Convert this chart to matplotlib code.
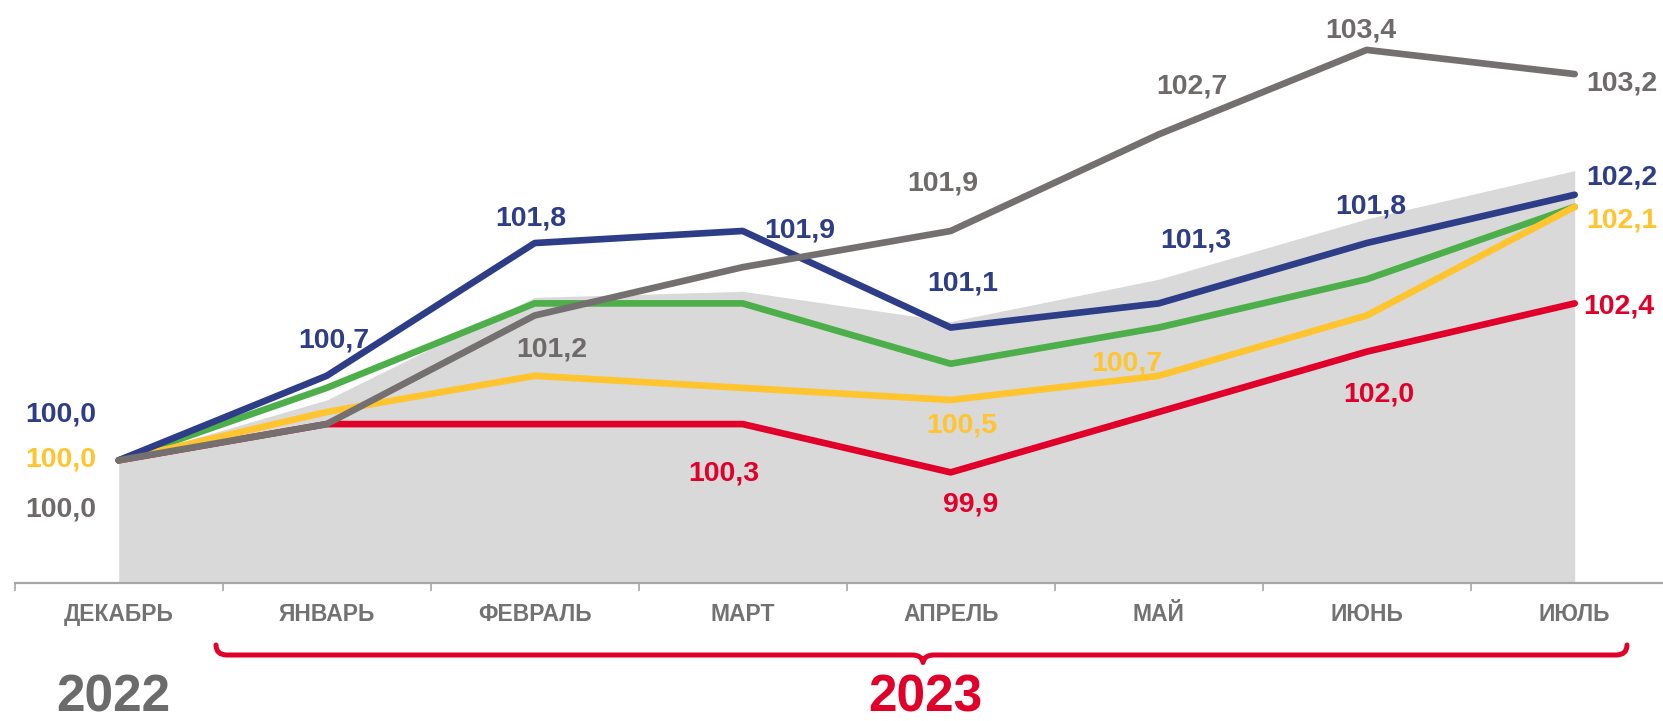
import matplotlib
matplotlib.use('Agg')
import matplotlib.pyplot as plt
from matplotlib.path import Path
from matplotlib.patches import PathPatch

# ---------------- data ----------------
months = ['ДЕКАБРЬ', 'ЯНВАРЬ', 'ФЕВРАЛЬ', 'МАРТ', 'АПРЕЛЬ', 'МАЙ', 'ИЮНЬ', 'ИЮЛЬ']
blue_vals = [100.0, 100.7, 101.8, 101.9, 101.1, 101.3, 101.8, 102.2]
green_vals = [100.0, 100.6, 101.3, 101.3, 100.8, 101.1, 101.5, 102.1]
yellow_vals = [100.0, 100.4, 100.7, 100.6, 100.5, 100.7, 101.2, 102.1]
red_vals = [100.0, 100.3, 100.3, 100.3, 99.9, 100.4, 100.9, 101.3]
gray_vals = [100.0, 100.3, 101.2, 101.6, 101.9, 102.7, 103.4, 103.2]
area_vals = [100.0, 100.5, 101.35, 101.4, 101.15, 101.5, 102.0, 102.4]

blue_labels = {0: '100,0', 1: '100,7', 2: '101,8', 3: '101,9', 4: '101,1',
               5: '101,3', 6: '101,8', 7: '102,2'}
yellow_labels = {0: '100,0', 4: '100,5', 5: '100,7', 7: '102,1'}
gray_labels = {0: '100,0', 2: '101,2', 4: '101,9', 5: '102,7', 6: '103,4', 7: '103,2'}
red_labels = {3: '100,3', 4: '99,9', 6: '102,0', 7: '102,4'}
year_labels = ['2022', '2023']

# ---------------- style ----------------
C_BLUE = '#2E3D87'
C_GREEN = '#4DAF4A'
C_YELLOW = '#FFC42E'
C_RED = '#E1002A'
C_GRAY = '#747070'
C_AREA = '#D9D9D9'
C_AXIS = '#A6A6A6'
C_TXT = '#727272'

FONT = 'Liberation Sans'
W, H = 1663, 721
PX_UNIT = 120.7      # pixels per index unit
Y0_PX = 460.3        # pixel row of value 100
X0_PX = 14.7         # left edge of plot (x = -0.5)
STEP = 208.0         # pixels per category
BASE_PX = 582.5      # pixel row of x axis

fig = plt.figure(figsize=(W / 100, H / 100), dpi=100)
left = X0_PX / W
bottom = (H - BASE_PX) / H
ax = fig.add_axes([left, bottom, 1 - left, 1 - bottom])
ax.set_xlim(-0.5, -0.5 + (W - X0_PX) / STEP)
ymin = 100 - (BASE_PX - Y0_PX) / PX_UNIT
ymax = 100 + Y0_PX / PX_UNIT
ax.set_ylim(ymin, ymax)
ax.patch.set_alpha(0)

x = list(range(len(months)))

ax.fill_between(x, area_vals, ymin, color=C_AREA, lw=0, zorder=1)

lw = 4.8
common = dict(solid_capstyle='round', solid_joinstyle='round', lw=lw)
ax.plot(x, red_vals, color=C_RED, zorder=3, **common)
ax.plot(x, green_vals, color=C_GREEN, zorder=4, **common)
ax.plot(x, yellow_vals, color=C_YELLOW, zorder=5, **common)
ax.plot(x, blue_vals, color=C_BLUE, zorder=6, **common)
ax.plot(x, gray_vals, color=C_GRAY, zorder=7, **common)

# axes decoration
for s in ['top', 'right', 'left']:
    ax.spines[s].set_visible(False)
ax.spines['bottom'].set_color(C_AXIS)
ax.spines['bottom'].set_linewidth(1.6)
ax.spines['bottom'].set_zorder(8)
ax.set_yticks([])
ax.set_xticks(x)
ax.set_xticklabels(months, fontfamily=FONT, fontweight='bold', fontsize=16.5, color=C_TXT)
ax.tick_params(axis='x', which='major', length=0, pad=27.5)
for lbl in ax.get_xticklabels():
    lbl.set_va('baseline')
ax.set_xticks([i - 0.5 for i in range(len(months))], minor=True)
ax.tick_params(axis='x', which='minor', length=6, width=1.2, color=C_AXIS, direction='out')

# data labels: offsets (dx, dy) in pixels from the point to the label centre
FS = 20.5
CAP = 0.716 * FS * 100 / 72

blue_off = {0: (-58, 49), 1: (7, 39), 2: (-4, 28), 3: (57, 4), 4: (12, 47),
            5: (37, 66), 6: (4, 40), 7: ('L', 12, 20)}
yellow_off = {0: (-58, 4), 4: (11, -22), 5: (-32, 16), 7: ('L', 12, -10)}
gray_off = {0: (-58, -46), 2: (17, -31), 4: (-8, 51), 5: (33, 51), 6: (-6, 23),
            7: ('L', 12, -6)}
red_off = {3: (-19, -46), 4: (20, -29), 6: (12, -40), 7: ('L', 9, 0)}


def put_labels(vals, labels, offs, color):
    for i, txt in labels.items():
        o = offs[i]
        if o[0] == 'L':
            ha, dx, dy = 'left', o[1], o[2]
        else:
            ha, dx, dy = 'center', o[0], o[1]
        ax.annotate(txt, (x[i], vals[i]), xytext=(dx, dy - CAP / 2),
                    textcoords='offset pixels', ha=ha, va='baseline',
                    fontsize=FS, fontweight='bold', fontfamily=FONT,
                    color=color, zorder=10, annotation_clip=False)


put_labels(blue_vals, blue_labels, blue_off, C_BLUE)
put_labels(yellow_vals, yellow_labels, yellow_off, C_YELLOW)
put_labels(gray_vals, gray_labels, gray_off, '#6E6A6A')
put_labels(red_vals, red_labels, red_off, C_RED)


# bracket under the 2023 months (pixel coords, top-left origin)
def P(px, py):
    return (px / W, (H - py) / H)


yb = 655
verts = [P(216, 645), P(216, yb), P(227, yb),
         P(912, yb), P(922, yb), P(923, 662.5),
         P(924, yb), P(934, yb),
         P(1616, yb), P(1627, yb), P(1627, 645)]
codes = [Path.MOVETO, Path.CURVE3, Path.CURVE3,
         Path.LINETO, Path.CURVE3, Path.CURVE3,
         Path.CURVE3, Path.CURVE3,
         Path.LINETO, Path.CURVE3, Path.CURVE3]
brace = PathPatch(Path(verts, codes), transform=fig.transFigure, fill=False,
                  edgecolor=C_RED, lw=3.6, capstyle='round', joinstyle='round')
fig.add_artist(brace)

# years
YEAR_BASE = 711
fig.text(113.5 / W, (H - YEAR_BASE) / H, year_labels[0], ha='center', va='baseline',
         fontsize=37, fontweight='bold', fontfamily=FONT, color='#6B6B6B')
fig.text(925.8 / W, (H - YEAR_BASE) / H, year_labels[1], ha='center', va='baseline',
         fontsize=37, fontweight='bold', fontfamily=FONT, color=C_RED)

fig.savefig('out.png', dpi=100)
